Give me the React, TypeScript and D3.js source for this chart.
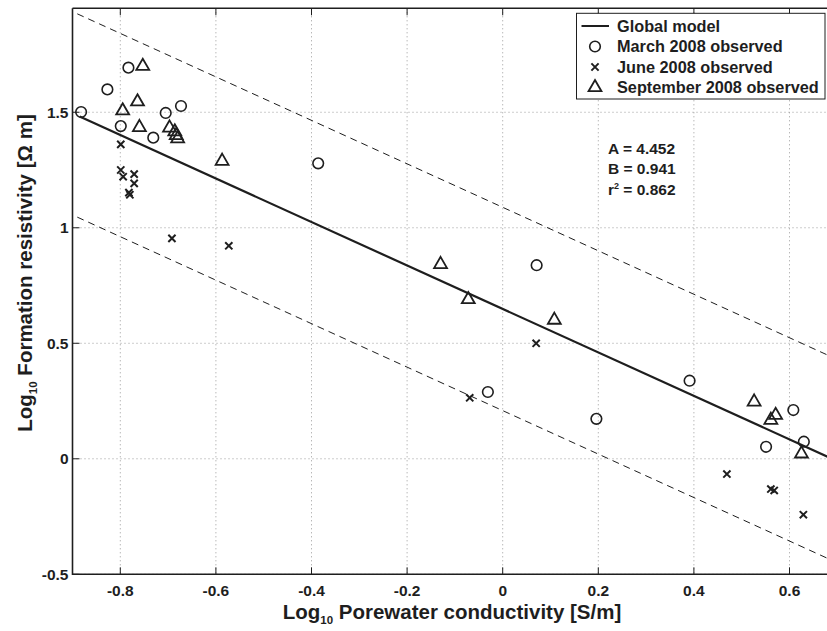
import React from 'react';
import * as d3 from 'd3';

// March 2008 observed (log10 conductivity, log10 resistivity)
const marchX = [-0.882, -0.827, -0.783, -0.799, -0.731, -0.705, -0.673, -0.386, 0.071, -0.031, 0.196, 0.391, 0.608, 0.551, 0.630];
const marchY = [1.501, 1.599, 1.693, 1.440, 1.390, 1.497, 1.527, 1.279, 0.838, 0.289, 0.173, 0.338, 0.211, 0.052, 0.074];

// June 2008 observed
const juneX = [-0.799, -0.799, -0.794, -0.771, -0.771, -0.782, -0.780, -0.692, -0.573, 0.070, -0.069, 0.469, 0.561, 0.568, 0.629];
const juneY = [1.361, 1.250, 1.221, 1.232, 1.192, 1.152, 1.143, 0.954, 0.922, 0.500, 0.264, -0.066, -0.131, -0.137, -0.242];

// September 2008 observed
const septX = [-0.753, -0.764, -0.795, -0.760, -0.697, -0.686, -0.683, -0.680, -0.587, -0.130, -0.072, 0.108, 0.526, 0.571, 0.561, 0.625];
const septY = [1.704, 1.550, 1.511, 1.439, 1.437, 1.420, 1.404, 1.390, 1.293, 0.846, 0.694, 0.605, 0.251, 0.193, 0.172, 0.026];

// global model: log rho = log A - B log sigma, with +/- band
const modelA = 4.452;
const modelB = 0.941;
const r2 = 0.862;
const band = 0.44;
const lineX = [-0.885, 0.7];
const bandX = [-0.89, 0.7];

const xTicks = [-0.8, -0.6, -0.4, -0.2, 0, 0.2, 0.4, 0.6];
const yTicks = [-0.5, 0, 0.5, 1, 1.5];

const legendItems = ['Global model', 'March 2008 observed', 'June 2008 observed', 'September 2008 observed'];

const W = 827;
const H = 631;
const font = '"Liberation Sans", Arial, Helvetica, sans-serif';
const ink = '#1e1e1e';

export default function App() {
  const x = d3.scaleLinear().domain([-0.9, 0.7]).range([72.5, 837.3]);
  const y = d3.scaleLinear().domain([-0.5, 1.95]).range([574.3, 8.3]);
  const [x0, x1] = x.range();
  const [yb, yt] = y.range();

  const model = (v: number) => Math.log10(modelA) - modelB * v;
  const line = d3.line<number[]>().x(d => x(d[0])).y(d => y(d[1]));
  const modelPath = line(lineX.map(v => [v, model(v)]));
  const upperPath = line(bandX.map(v => [v, model(v) + band]));
  const lowerPath = line(bandX.map(v => [v, model(v) - band]));

  const tri = d3.symbol().type(d3.symbolTriangle).size(72)();

  const circle = (cx: number, cy: number, k: string | number) => (
    <circle key={k} cx={cx} cy={cy} r={5.3} fill="none" stroke={ink} strokeWidth={1.6} />
  );
  const cross = (cx: number, cy: number, k: string | number) => (
    <path key={k} d={`M${cx - 3.6},${cy - 3.6}L${cx + 3.6},${cy + 3.6}M${cx - 3.6},${cy + 3.6}L${cx + 3.6},${cy - 3.6}`}
      stroke={ink} strokeWidth={2} fill="none" />
  );
  const triangle = (cx: number, cy: number, k: string | number) => (
    <path key={k} d={tri as string} transform={`translate(${cx},${cy + 1})`} fill="none" stroke={ink} strokeWidth={1.8} />
  );

  const legX = 576.5, legY = 13.3, legW = 248.5, legH = 85.7;
  const rowY = [26, 46.5, 67, 87.5];

  return (
    <svg width={W} height={H} style={{ position: 'absolute', left: 0, top: 0, background: '#fff' }} fontFamily={font}>
      <defs>
        <clipPath id="plot">
          <rect x={x0} y={yt} width={x1 - x0} height={yb - yt} />
        </clipPath>
      </defs>

      {/* grid */}
      {xTicks.map(t => (
        <line key={'gx' + t} x1={x(t)} x2={x(t)} y1={yt} y2={yb} stroke="#9a9a9a" strokeWidth={1} strokeDasharray="1,3" />
      ))}
      {yTicks.map(t => (
        <line key={'gy' + t} x1={x0} x2={x1} y1={y(t)} y2={y(t)} stroke="#9a9a9a" strokeWidth={1} strokeDasharray="1,3" />
      ))}

      {/* ticks */}
      {xTicks.map(t => (
        <g key={'tx' + t}>
          <line x1={x(t)} x2={x(t)} y1={yb} y2={yb - 7} stroke={ink} strokeWidth={1} />
          <line x1={x(t)} x2={x(t)} y1={yt} y2={yt + 7} stroke={ink} strokeWidth={1} />
          <text x={x(t)} y={yb + 22} textAnchor="middle" fontSize={15.5} fontWeight="bold" fill={ink}>{t}</text>
        </g>
      ))}
      {yTicks.map(t => (
        <g key={'ty' + t}>
          <line x1={x0} x2={x0 + 7} y1={y(t)} y2={y(t)} stroke={ink} strokeWidth={1} />
          <text x={x0 - 4} y={y(t) + 5.5} textAnchor="end" fontSize={15.5} fontWeight="bold" fill={ink}>{t}</text>
        </g>
      ))}

      {/* model lines */}
      <g clipPath="url(#plot)">
        <path d={upperPath as string} fill="none" stroke={ink} strokeWidth={1} strokeDasharray="7,5" />
        <path d={lowerPath as string} fill="none" stroke={ink} strokeWidth={1} strokeDasharray="7,5" />
        <path d={modelPath as string} fill="none" stroke={ink} strokeWidth={2.2} />
      </g>

      {/* observations */}
      {marchX.map((v, i) => circle(x(v), y(marchY[i]), 'm' + i))}
      {juneX.map((v, i) => cross(x(v), y(juneY[i]), 'j' + i))}
      {septX.map((v, i) => triangle(x(v), y(septY[i]), 's' + i))}

      {/* axes box */}
      <path d={`M${x0},${yt}V${yb}H${x1}`} fill="none" stroke={ink} strokeWidth={1.6} />
      <line x1={x0} x2={x1} y1={yt} y2={yt} stroke={ink} strokeWidth={1.6} />

      {/* legend */}
      <rect x={legX} y={legY} width={legW} height={legH} fill="#fff" stroke={ink} strokeWidth={1} />
      <line x1={581.5} x2={609} y1={rowY[0]} y2={rowY[0]} stroke={ink} strokeWidth={2} />
      {circle(595, rowY[1], 'lc')}
      {cross(595, rowY[2], 'lx')}
      {triangle(595, rowY[3] - 1, 'lt')}
      {legendItems.map((s, i) => (
        <text key={s} x={617} y={rowY[i] + 5.8} fontSize={16.3} fontWeight="bold" fill={ink}>{s}</text>
      ))}

      {/* fit parameters */}
      <g fontSize={15.5} fontWeight="bold" fill={ink}>
        <text x={608} y={153.5}>A = {modelA.toFixed(3)}</text>
        <text x={608} y={174}>B = {modelB.toFixed(3)}</text>
        <text x={608} y={194.5}>r<tspan dy={-6} fontSize={9}>2</tspan><tspan dy={6}> = {r2.toFixed(3)}</tspan></text>
      </g>

      {/* axis labels */}
      <text x={452} y={619} textAnchor="middle" fontSize={20.5} fontWeight="bold" fill={ink}>
        Log<tspan dy={5} fontSize={11.5}>10</tspan><tspan dy={-5}> Porewater conductivity [S/m]</tspan>
      </text>
      <text transform="translate(32,273) rotate(-90)" textAnchor="middle" fontSize={20.5} fontWeight="bold" fill={ink}>
        Log<tspan dy={5} fontSize={11.5}>10</tspan><tspan dy={-5}> Formation resistivity [Ω m]</tspan>
      </text>
    </svg>
  );
}
